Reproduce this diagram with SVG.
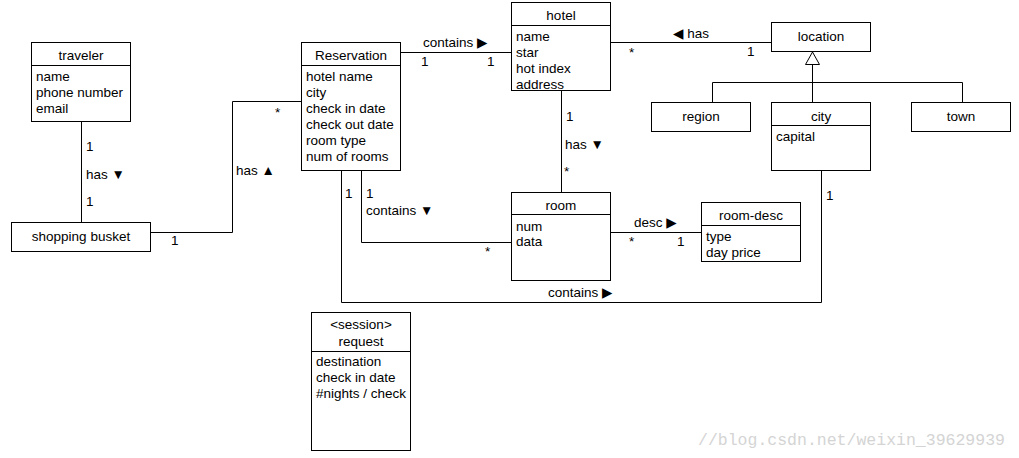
<svg xmlns="http://www.w3.org/2000/svg" width="1019" height="458" viewBox="0 0 1019 458">
<style>
.box{fill:#fff;stroke:#000;stroke-width:1}
.ln{fill:none;stroke:#000;stroke-width:1}
text{font-family:"Liberation Sans",Arial,"DejaVu Sans",sans-serif;font-size:13.5px;fill:#000}
.c{text-anchor:middle}
.wm{font-family:"Liberation Mono","DejaVu Sans Mono",monospace;font-size:16.5px;fill:#d4d4d4}
</style>
<rect width="1019" height="458" fill="#fff"/>
<g id="connectors">
<path class="ln" d="M81.5 121 V222"/>
<path class="ln" d="M151 232.5 H232.5 V101.5 H301"/>
<path class="ln" d="M400 52.5 H511"/>
<path class="ln" d="M611 42.5 H771"/>
<path class="ln" d="M561.5 91 V192"/>
<path class="ln" d="M361.5 171 V242.5 H511"/>
<path class="ln" d="M341.5 171 V302.5 H821.5 V171"/>
<path class="ln" d="M610 232.5 H701"/>
<path class="ln" d="M812.5 64 V102 M712.5 102 V82.5 H962.5 V102"/>
<polygon points="812.5,52 805.5,64.5 819.5,64.5" fill="#fff" stroke="#000"/>
<text x="86" y="151">1</text>
<text x="86" y="179">has ▼</text>
<text x="86" y="206">1</text>
<text x="275" y="117">*</text>
<text x="236" y="175">has ▲</text>
<text x="171" y="245">1</text>
<text x="345" y="198">1</text>
<text x="366" y="198">1</text>
<text x="366" y="215">contains ▼</text>
<text x="485" y="256">*</text>
<text x="423" y="47">contains ▶</text>
<text x="421" y="66">1</text>
<text x="487" y="66">1</text>
<text x="673" y="38">◀ has</text>
<text x="629" y="57">*</text>
<text x="747" y="56">1</text>
<text x="566" y="121">1</text>
<text x="565" y="149">has ▼</text>
<text x="564" y="176">*</text>
<text x="634" y="227">desc ▶</text>
<text x="629" y="246">*</text>
<text x="677" y="246">1</text>
<text x="548" y="297">contains ▶</text>
<text x="826" y="200">1</text>
</g>
<g id="traveler">
<rect class="box" x="31.5" y="42.5" width="99" height="79"/>
<path class="ln" d="M31.5 65.5 H130.5"/>
<text class="c" x="81" y="60">traveler</text>
<text x="36" y="81">name</text>
<text x="36" y="97">phone number</text>
<text x="36" y="113">email</text>
</g>
<g id="shopping-busket">
<rect class="box" x="11.5" y="222.5" width="139" height="29"/>
<text class="c" x="81" y="241">shopping busket</text>
</g>
<g id="reservation">
<rect class="box" x="301.5" y="42.5" width="99" height="128"/>
<path class="ln" d="M301.5 65.5 H400.5"/>
<text class="c" x="351" y="60">Reservation</text>
<text x="306" y="81">hotel name</text>
<text x="306" y="97">city</text>
<text x="306" y="113">check in date</text>
<text x="306" y="129">check out date</text>
<text x="306" y="145">room type</text>
<text x="306" y="161">num of rooms</text>
</g>
<g id="hotel">
<rect class="box" x="511.5" y="2.5" width="99" height="88"/>
<path class="ln" d="M511.5 25.5 H610.5"/>
<text class="c" x="561" y="20">hotel</text>
<text x="516" y="41">name</text>
<text x="516" y="57">star</text>
<text x="516" y="73">hot index</text>
<text x="516" y="89">address</text>
</g>
<g id="location">
<rect class="box" x="771.5" y="22.5" width="99" height="29"/>
<text class="c" x="821" y="41">location</text>
</g>
<g id="region">
<rect class="box" x="651.5" y="102.5" width="99" height="29"/>
<text class="c" x="701" y="121">region</text>
</g>
<g id="city">
<rect class="box" x="771.5" y="102.5" width="99" height="68"/>
<path class="ln" d="M771.5 125.5 H870.5"/>
<text class="c" x="821" y="121">city</text>
<text x="776" y="141">capital</text>
</g>
<g id="town">
<rect class="box" x="911.5" y="102.5" width="99" height="29"/>
<text class="c" x="961" y="121">town</text>
</g>
<g id="room">
<rect class="box" x="511.5" y="192.5" width="99" height="88"/>
<path class="ln" d="M511.5 214.5 H610.5"/>
<text class="c" x="561" y="210">room</text>
<text x="516" y="231">num</text>
<text x="516" y="246">data</text>
</g>
<g id="room-desc">
<rect class="box" x="701.5" y="202.5" width="99" height="59"/>
<path class="ln" d="M701.5 225.5 H800.5"/>
<text class="c" x="751" y="220">room-desc</text>
<text x="706" y="241">type</text>
<text x="706" y="257">day price</text>
</g>
<g id="request">
<rect class="box" x="311.5" y="312.5" width="99" height="138"/>
<path class="ln" d="M311.5 351.5 H410.5"/>
<text class="c" x="361" y="329">&lt;session&gt;</text>
<text class="c" x="361" y="346">request</text>
<text x="316" y="366">destination</text>
<text x="316" y="382">check in date</text>
<text x="316" y="398">#nights / check</text>
</g>
<text class="wm" x="698" y="445">//blog.csdn.net/weixin_39629939</text>
</svg>
